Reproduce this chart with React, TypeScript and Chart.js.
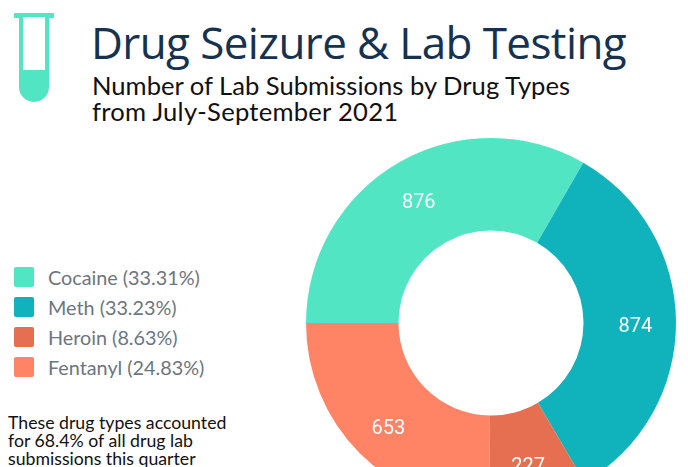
import React, { useEffect, useRef } from "react";
import { Chart, registerables } from "chart.js";

Chart.register(...registerables);

const categories = ["Cocaine", "Meth", "Heroin", "Fentanyl"];
const values = [876, 874, 227, 653];
const percents = ["33.31%", "33.23%", "8.63%", "24.83%"];
const colors = ["#52E5C3", "#10B3BC", "#E76F51", "#FF8364"];
const titleText = "Drug Seizure & Lab Testing";
const subtitleLines = ["Number of Lab Submissions by Drug Types", "from July-September 2021"];
const noteLines = ["These drug types accounted", "for 68.4% of all drug lab", "submissions this quarter"];

const labelPlugin = {
  id: "sliceLabels",
  afterDatasetsDraw(chart: any) {
    const ctx = chart.ctx;
    const meta = chart.getDatasetMeta(0);
    ctx.save();
    ctx.fillStyle = "#ffffff";
    ctx.font = '20px Roboto';
    ctx.textAlign = "center";
    ctx.textBaseline = "middle";
    meta.data.forEach((arc: any, i: number) => {
      const p = arc.tooltipPosition();
      const x = arc.x + (p.x - arc.x) * 1.04;
      const y = arc.y + (p.y - arc.y) * 1.04 + 5;
      ctx.fillText(String(values[i]), x, y);
    });
    ctx.restore();
  },
};

export default function App() {
  const ref = useRef<HTMLCanvasElement>(null);
  useEffect(() => {
    document.body.style.margin = "0";
    document.body.style.overflow = "hidden";
    document.documentElement.style.overflow = "hidden";
    const chart = new Chart(ref.current!, {
      type: "doughnut",
      data: {
        labels: categories,
        datasets: [{ data: values, backgroundColor: colors, borderWidth: 0 }],
      },
      options: {
        animation: false,
        responsive: false,
        rotation: 270,
        cutout: "50%",
        layout: { padding: 10 },
        plugins: { legend: { display: false }, tooltip: { enabled: false } },
      },
      plugins: [labelPlugin],
    } as any);
    return () => chart.destroy();
  }, []);

  const abs = (s: React.CSSProperties): React.CSSProperties => ({ position: "absolute", whiteSpace: "nowrap", ...s });
  return (
    <div style={{ position: "relative", width: 688, height: 467, overflow: "hidden", background: "#fff" }}>
      <svg width={60} height={110} style={{ position: "absolute", left: 0, top: 0 }}>
        <rect x={14} y={13} width={40} height={5} rx={1} fill={colors[0]} />
        <path d="M19 17 H49 V87 A15 15 0 0 1 19 87 Z" fill={colors[0]} />
        <rect x={23} y={17} width={22} height={53} fill="#fff" />
      </svg>
      <div style={abs({ left: 91, top: 13, fontFamily: "'Open Sans'", fontSize: 44, letterSpacing: -0.6, lineHeight: "58px", color: "#16324F" })}>{titleText}</div>
      {subtitleLines.map((t, i) => (
        <div key={t} style={abs({ left: 92, top: 72 + i * 26, fontFamily: "Lato", fontSize: 25.6, lineHeight: "27px", color: "#111", letterSpacing: i === 1 ? 0.25 : 0 })}>{t}</div>
      ))}
      {categories.map((c, i) => (
        <React.Fragment key={c}>
          <div style={{ position: "absolute", left: 14, top: 267 + i * 30, width: 20, height: 20, borderRadius: 2, background: colors[i] }} />
          <div style={abs({ left: 48, top: 265 + i * 30, fontFamily: "Lato", fontSize: 19.8, lineHeight: "24px", color: "#6B7681" })}>{`${c} (${percents[i]})`}</div>
        </React.Fragment>
      ))}
      {noteLines.map((t, i) => (
        <div key={t} style={abs({ left: 8, top: 414 + i * 18, fontFamily: "Lato", fontSize: 17.7, lineHeight: "18px", color: "#111" })}>{t}</div>
      ))}
      <canvas ref={ref} width={390} height={390} style={{ position: "absolute", left: 296, top: 128, width: 390, height: 390 }} />
    </div>
  );
}
